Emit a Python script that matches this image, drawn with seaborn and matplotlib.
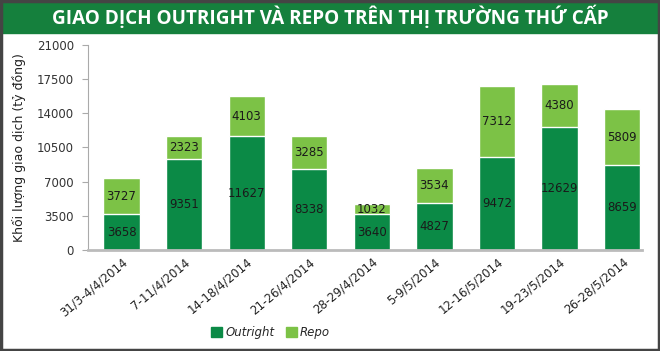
import matplotlib.pyplot as plt
import seaborn as sns
import pandas as pd
from matplotlib.patches import Rectangle

weeks = ["31/3-4/4/2014", "7-11/4/2014", "14-18/4/2014", "21-26/4/2014", "28-29/4/2014",
         "5-9/5/2014", "12-16/5/2014", "19-23/5/2014", "26-28/5/2014"]
outright = [3658, 9351, 11627, 8338, 3640, 4827, 9472, 12629, 8659]
repo = [3727, 2323, 4103, 3285, 1032, 3534, 7312, 4380, 5809]
yticks = [0, 3500, 7000, 10500, 14000, 17500, 21000]

dark = "#0b8a46"
light = "#7cc246"

df = pd.DataFrame({"week": weeks, "outright": outright, "repo": repo})
df["total"] = df["outright"] + df["repo"]

sns.set_style("white")
plt.rcParams['font.family'] = ['DejaVu Sans']

fig = plt.figure(figsize=(6.6, 3.51), dpi=100)
ax = fig.add_axes([0.133, 0.288, 0.840, 0.584])

# stacked bars: total (repo colour) behind, outright in front
sns.barplot(data=df, x="week", y="total", color=light, width=0.58, saturation=1, ax=ax)
sns.barplot(data=df, x="week", y="outright", color=dark, width=0.58, saturation=1, ax=ax)

for i, row in df.iterrows():
    ax.text(i, row["outright"] / 2, str(row["outright"]), ha="center", va="center",
            fontsize=8.5, color="#1a1a1a")
    ax.text(i, row["outright"] + row["repo"] / 2, str(row["repo"]), ha="center", va="center",
            fontsize=8.5, color="#1a1a1a")

ax.set_ylim(0, 21000)
ax.set_xlim(-0.54, len(weeks) - 0.68)
ax.set_yticks(yticks)
ax.set_yticklabels([str(t) for t in yticks], fontsize=8.5, color="#333333")
ax.set_xticks(range(len(weeks)))
ax.set_xticklabels(weeks, rotation=40, ha="right", rotation_mode="anchor", fontsize=8.5, color="#222222")
ax.set_xlabel("")
ax.set_ylabel("Khối lượng giao dịch (tỷ đồng)", fontsize=9, color="#222222", labelpad=8)
ax.tick_params(axis="y", length=4, color="#aaaaaa", direction="out", left=True, pad=6)
ax.tick_params(axis="x", length=0, pad=4)
for s in ["top", "right"]:
    ax.spines[s].set_visible(False)
ax.spines["left"].set_color("#aaaaaa")
ax.spines["bottom"].set_color("#bbbbbb")
ax.spines["bottom"].set_linewidth(2)

# legend
handles = [Rectangle((0, 0), 1, 1, color=dark), Rectangle((0, 0), 1, 1, color=light)]
fig.legend(handles, ["Outright", "Repo"], loc="center", bbox_to_anchor=(0.41, 0.052), ncol=2,
           frameon=False, handlelength=0.9, handleheight=0.9, handletextpad=0.3, columnspacing=1.0,
           prop={"style": "italic", "size": 8.5})

# title bar
fig.patches.append(Rectangle((0, 0.905), 1, 0.095, transform=fig.transFigure, color="#15803d", zorder=0))
fig.text(0.5, 0.952, "GIAO DỊCH OUTRIGHT VÀ REPO TRÊN THỊ TRƯỜNG THỨ CẤP", ha="center", va="center",
         color="white", fontsize=13.6, fontweight="bold", family="Open Sans")

# frame
fig.patches.append(Rectangle((0.002, 0.003), 0.996, 0.994, transform=fig.transFigure, fill=False,
                             edgecolor="#444444", linewidth=2.5, zorder=5))

fig.savefig("out.png", dpi=100)
